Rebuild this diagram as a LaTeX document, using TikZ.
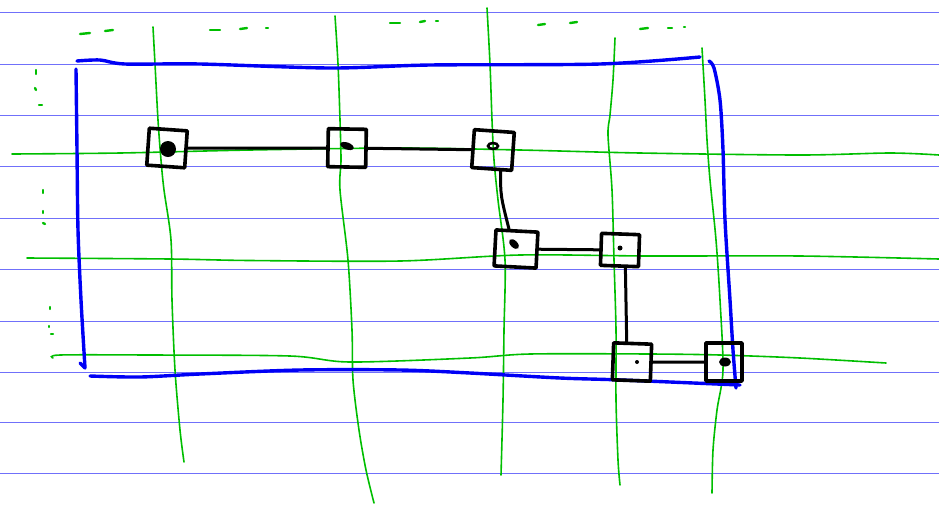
\documentclass[tikz,border=0pt]{standalone}
\usetikzlibrary{calc}
\definecolor{ruled}{RGB}{112,112,250}
\definecolor{grn}{RGB}{0,190,0}
\definecolor{blu}{RGB}{0,0,245}
\tikzset{
  ruledline/.style={ruled,line width=1pt},
  gline/.style={grn,line width=1.6pt,line cap=round},
  gdash/.style={grn,line width=2.4pt,line cap=round},
  bline/.style={blu,line width=3.4pt,line cap=round,line join=round},
  sq/.style={draw=black,line width=3.6pt,minimum width=38pt,minimum height=37pt,inner sep=0pt,line join=round},
  conn/.style={black,line width=3pt,line cap=round},
}
\begin{document}
\begin{tikzpicture}[x=1pt,y=-1pt]
\useasboundingbox (0,0) rectangle (939,507);
% ruled paper lines
\foreach \yy in {12,64,115,166,218,269,321,372,422,473}
  \draw[ruledline] (0,\yy) -- (939,\yy);
% faint green dashes
\foreach \a/\b/\c/\d in {80/34/90/33,105/31/113/30,210/30/220/30,240/29/247/28,266/28/268/28,390/23/400/23,420/22/425/21,436/21/438/21,538/25/545/24,570/23/577/22,640/29/648/28,668/28/672/28,684/27/685/27,36/70/36/74,35/88/36/90,39/105/42/105,43/190/43/193,43/211/43/213,43/223/45/224,50/307/50/309,49/326/49/327,51/334/53/334}
  \draw[gdash] (\a,\b) -- (\c,\d);
% green vertical lines
\draw[gline] plot[smooth] coordinates {(153,27) (155,64) (158,120) (161,160) (164,190) (171,240) (172,300) (175,370) (180,430) (184,462)};
\draw[gline] plot[smooth] coordinates {(335,16) (338,64) (340,120) (341,160) (340,190) (348,260) (352,330) (353,380) (359,430) (366,470) (374,503)};
\draw[gline] plot[smooth] coordinates {(487,8) (490,64) (492,120) (494,160) (498,200) (505,260) (504,330) (503,400) (501,475)};
\draw[gline] plot[smooth] coordinates {(615,38) (613,80) (610,115) (608,135) (612,190) (614,260) (616,330) (616,400) (618,460) (620,485)};
\draw[gline] plot[smooth] coordinates {(702,48) (705,100) (707,140) (710,180) (716,240) (720,300) (723,370) (717,410) (713,450) (712,493)};
% green horizontal lines
\draw[gline] plot[smooth] coordinates {(12,154) (120,153) (250,150) (400,148) (520,150) (640,153) (800,155) (890,153) (939,155)};
\draw[gline] plot[smooth] coordinates {(27,258) (170,259) (250,260.5) (400,261) (520,255) (650,256) (800,256) (939,259)};
\draw[gline] plot[smooth] coordinates {(53,358) (60,355) (150,355) (290,356) (350,362) (470,358) (530,354) (650,354) (720,355) (800,358) (886,363)};
% blue rectangle
\draw[bline] plot[smooth] coordinates {(77,61) (100,60) (125,64) (200,64) (330,68) (430,65) (600,64) (700,57)};
\draw[bline] plot[smooth] coordinates {(76,69) (77,150) (78,230) (81,300) (85,368)};
\draw[bline] (85,368) -- (80,363);
\draw[bline] plot[smooth] coordinates {(90,376) (140,377) (200,374) (300,370) (400,370) (470,373) (560,378) (622,380) (740,385)};
\draw[bline] plot[smooth] coordinates {(709,61) (714,68) (720,100) (723,150) (725,220) (730,300) (733,350) (736,388)};
% squares
\node[sq,rotate=-4] (s1) at (167,148) {};
\node[sq,minimum width=38pt,minimum height=38pt,rotate=-1] (s2) at (347,148) {};
\node[sq,minimum width=40pt,minimum height=38pt,rotate=-4] (s3) at (493,150) {};
\node[sq,minimum width=42pt,minimum height=36pt,rotate=-3] (s4) at (516,249) {};
\node[sq,minimum width=38pt,minimum height=32pt,rotate=-2] (s5) at (620,250) {};
\node[sq,minimum width=38pt,minimum height=37pt,rotate=-2] (s6) at (632,362) {};
\node[sq,minimum width=36pt,minimum height=38pt] (s7) at (724,362) {};
% dots
\fill (s1.center) ++(1,1) circle[radius=8];
\fill (347,146) ellipse[x radius=7,y radius=3.5,rotate=-20];
\draw[line width=2.6pt] (493,146) ellipse[x radius=5,y radius=3];
\fill (514,244) ellipse[x radius=6,y radius=3.5,rotate=-45];
\fill (620,248) circle[radius=2.5];
\fill (637,362) circle[radius=2];
\fill (725,362) ellipse[x radius=6,y radius=4.5];
% connectors
\draw[conn] (s1) -- (s2);
\draw[conn] (s2) -- (s3);
\draw[conn] ([xshift=9pt]s3.south) .. controls ([xshift=9pt,yshift=-25pt]s3.south) .. ([xshift=-8pt]s4.north);
\draw[conn] (s4) -- (s5);
\draw[conn] ([xshift=6pt]s5.south) -- ([xshift=-6pt]s6.north);
\draw[conn] (s6) -- (s7);
\end{tikzpicture}
\end{document}
